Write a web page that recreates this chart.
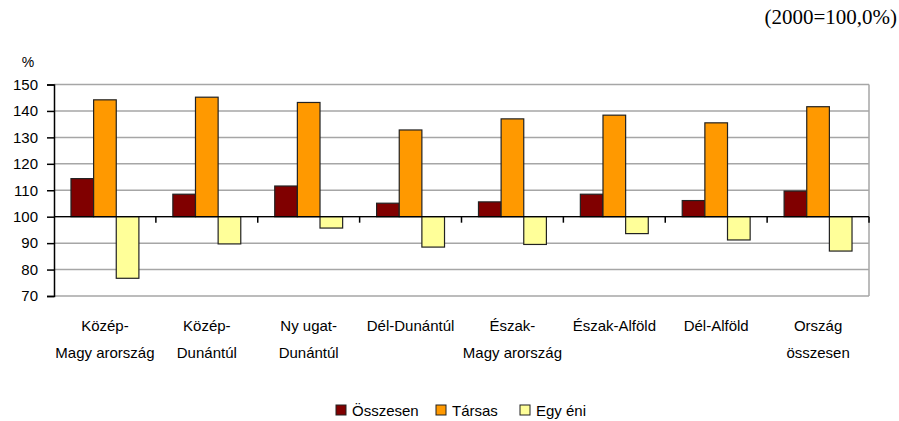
<!DOCTYPE html>
<html>
<head>
<meta charset="utf-8">
<script src="https://cdn.jsdelivr.net/npm/d3@7"></script>
<style>
  body { margin: 0; background: #fff; }
  text { font-family: "Liberation Sans", Arial, sans-serif; fill: #000; }
  .grid line { stroke: #a6a6a6; stroke-width: 1.5; }
  .bar { stroke: #222; stroke-width: 1.2; }
</style>
</head>
<body>
<script>
const width = 899,
  height = 421;

const regions = [
  ['Közép-', 'Magy arország'],
  ['Közép-', 'Dunántúl'],
  ['Ny ugat-', 'Dunántúl'],
  ['Dél-Dunántúl'],
  ['Észak-', 'Magy arország'],
  ['Észak-Alföld'],
  ['Dél-Alföld'],
  ['Ország', 'összesen']
];
const series = ['Összesen', 'Társas', 'Egy éni'];
const osszesen = [114.4, 108.5, 111.6, 105.1, 105.6, 108.5, 106.1, 109.7];
const tarsas = [144.2, 145.2, 143.2, 132.8, 137.0, 138.4, 135.5, 141.6];
const egyeni = [76.7, 89.7, 95.7, 88.5, 89.5, 93.6, 91.2, 87.0];
const yTicks = [70, 80, 90, 100, 110, 120, 130, 140, 150];
const colors = ['#800000', '#ff9900', '#ffff99'];

const values = [osszesen, tarsas, egyeni];

const margin = { left: 54, right: 30, top: 84.5, bottom: 125 };
const plotW = width - margin.left - margin.right;
const plotH = height - margin.top - margin.bottom;

const svg = d3
  .select('body')
  .append('svg')
  .attr('width', width)
  .attr('height', height);

const x = d3
  .scaleBand()
  .domain(d3.range(regions.length))
  .range([margin.left, margin.left + plotW]);

// 3 oszlop + 1,5 oszlopnyi rés kategóriánként
const barW = x.bandwidth() / 4.5;
const x1 = d3
  .scaleBand()
  .domain(d3.range(series.length))
  .range([0, barW * 3]);

const y = d3
  .scaleLinear()
  .domain([70, 150])
  .range([margin.top + plotH, margin.top]);

// rácsvonalak
svg
  .append('g')
  .attr('class', 'grid')
  .selectAll('line')
  .data(yTicks)
  .join('line')
  .attr('x1', margin.left)
  .attr('x2', margin.left + plotW)
  .attr('y1', d => y(d))
  .attr('y2', d => y(d));

// jobb oldali keret
svg
  .append('line')
  .attr('x1', margin.left + plotW)
  .attr('x2', margin.left + plotW)
  .attr('y1', y(150))
  .attr('y2', y(70))
  .attr('stroke', '#a6a6a6')
  .attr('stroke-width', 1.5);

// oszlopok (100-as alapvonaltól)
const groups = svg
  .append('g')
  .selectAll('g')
  .data(regions.map((r, i) => i))
  .join('g')
  .attr('transform', i => `translate(${x(i) + barW * 0.75},0)`);

groups
  .selectAll('rect')
  .data(i => values.map((v, s) => ({ s, v: v[i] })))
  .join('rect')
  .attr('class', 'bar')
  .attr('x', d => x1(d.s))
  .attr('width', x1.bandwidth())
  .attr('y', d => y(Math.max(d.v, 100)))
  .attr('height', d => Math.abs(y(d.v) - y(100)))
  .attr('fill', d => colors[d.s]);

// y tengely
const yAxis = d3
  .axisLeft(y)
  .tickValues(yTicks)
  .tickSize(7)
  .tickPadding(9);

svg
  .append('g')
  .attr('transform', `translate(${margin.left},0)`)
  .call(yAxis)
  .call(g => g.select('.domain').attr('stroke', '#000').attr('stroke-width', 1.5))
  .call(g => g.selectAll('.tick line').attr('stroke', '#000').attr('stroke-width', 1.5))
  .call(g =>
    g
      .selectAll('.tick text')
      .attr('font-size', 15)
      .attr('font-family', '"Liberation Sans", Arial, sans-serif')
      .attr('fill', '#000')
  );

svg
  .append('text')
  .attr('x', 28)
  .attr('y', 67)
  .attr('text-anchor', 'middle')
  .attr('font-size', 14)
  .text('%');

// kategória tengely a 100-as vonalon
svg
  .append('line')
  .attr('x1', margin.left)
  .attr('x2', margin.left + plotW)
  .attr('y1', y(100))
  .attr('y2', y(100))
  .attr('stroke', '#000')
  .attr('stroke-width', 1.2);

svg
  .append('g')
  .selectAll('line')
  .data(d3.range(1, regions.length + 1))
  .join('line')
  .attr('x1', i => margin.left + x.step() * i)
  .attr('x2', i => margin.left + x.step() * i)
  .attr('y1', y(100))
  .attr('y2', y(100) + 6)
  .attr('stroke', '#000')
  .attr('stroke-width', 1.5);

// kategória feliratok
svg
  .append('g')
  .selectAll('text')
  .data(regions)
  .join('text')
  .attr('x', (d, i) => x(i) + x.bandwidth() / 2)
  .attr('y', 331)
  .attr('text-anchor', 'middle')
  .attr('font-size', 15)
  .selectAll('tspan')
  .data(d => d)
  .join('tspan')
  .attr('x', function () {
    return this.parentNode.getAttribute('x');
  })
  .attr('dy', (d, j) => (j === 0 ? 0 : 27))
  .text(d => d);

// jelmagyarázat
const legendX = [336, 436, 520];
const legend = svg
  .append('g')
  .selectAll('g')
  .data(series)
  .join('g')
  .attr('transform', (d, i) => `translate(${legendX[i]},405)`);

legend
  .append('rect')
  .attr('width', 10)
  .attr('height', 10)
  .attr('fill', (d, i) => colors[i])
  .attr('stroke', '#222');

legend
  .append('text')
  .attr('x', 16)
  .attr('y', 10.5)
  .attr('font-size', 15)
  .text(d => d);

// cím
svg
  .append('text')
  .attr('x', 897)
  .attr('y', 24)
  .attr('text-anchor', 'end')
  .attr('font-size', 21)
  .style('font-family', '"Liberation Serif", "Times New Roman", serif')
  .text('(2000=100,0%)');
</script>
</body>
</html>
